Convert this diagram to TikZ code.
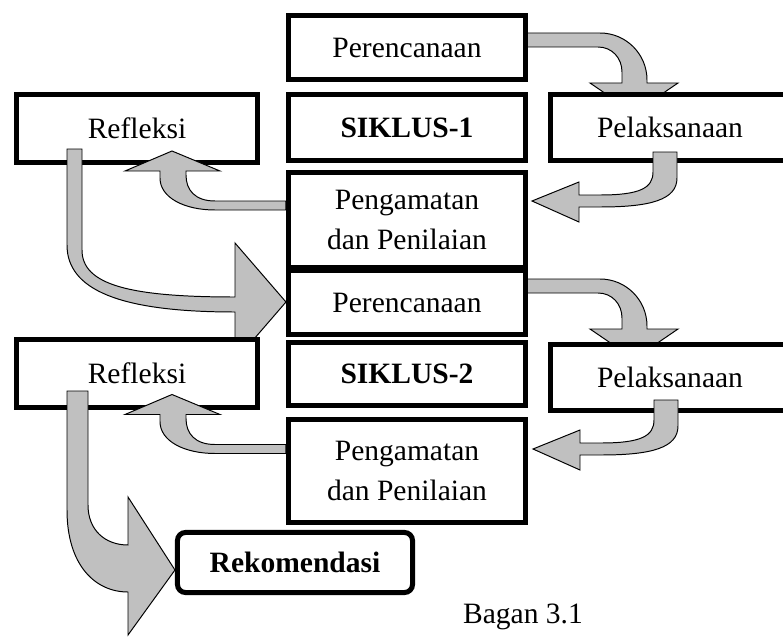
\documentclass[tikz,border=0pt]{standalone}
\usepackage{fontspec}
\setmainfont{Liberation Serif}
\definecolor{arrowgray}{HTML}{C0C0C0}

\begin{document}
\begin{tikzpicture}[x=0.025cm, y=-0.025cm, box node/.style={rectangle,draw,fill=white,line width=0.125cm,minimum width=5.925cm,inner sep=0pt,align=center},block arrow/.style={draw,fill=arrowgray,line width=0.7pt,line join=miter}]
\useasboundingbox (0,0) rectangle (783,637);
\clip (0,0) rectangle (783,637);
% arrows that go under the boxes
\filldraw[block arrow] (515,33) -- (600,33) .. controls (626,33) and (647,54) .. (647,80) -- (647,83) -- (678,83) -- (634,113) -- (590,83) -- (622,83) -- (622,72) .. controls (622,58) and (612,47) .. (598,47) -- (515,47) -- cycle;
\filldraw[block arrow,shift={(0,246)}] (515,33) -- (600,33) .. controls (626,33) and (647,54) .. (647,80) -- (647,83) -- (678,83) -- (634,113) -- (590,83) -- (622,83) -- (622,72) .. controls (622,58) and (612,47) .. (598,47) -- (515,47) -- cycle;
\begin{scope}[every node/.style={font=\fontsize{21}{28.5}\selectfont}]
\node [box node,minimum height=1.6cm](per1) at (407,47.5) {Perencanaan};
\node [box node,minimum height=1.65cm](sik1) at (407,127.5) {\textbf{SIKLUS-1}};
\node [box node,minimum height=2.375cm](pen1) at (407,220) {Pengamatan\\dan Penilaian};
\node [box node,minimum height=1.6cm](per2) at (407,302.5) {Perencanaan};
\node [box node,minimum height=1.575cm](sik2) at (407,374) {\textbf{SIKLUS-2}};
\node [box node,minimum height=2.575cm](pen2) at (407,471) {Pengamatan\\dan Penilaian};
\node [box node,minimum width=5.975cm,minimum height=1.65cm](pel1) at (670,127.5) {Pelaksanaan};
\node [box node,minimum width=5.975cm,minimum height=1.65cm](pel2) at (670,377.5) {Pelaksanaan};
\node [box node,minimum width=6.025cm,minimum height=1.7cm](ref1) at (137,128.5) {Refleksi};
\node [box node,rounded corners=0.2cm,minimum width=5.875cm,minimum height=1.5cm](rek) at (295,562.5) {\textbf{Rekomendasi}};
%ref1 -> per2, its head goes under ref2
\filldraw[block arrow] (67,149) -- (67,245) .. controls (67,290) and (120,312) .. (235,312) -- (235,361) -- (per2.west |- 0,302) -- (235,243) -- (235,297) .. controls (130,297) and (82,285) .. (82,250) -- (82,149) -- cycle;
\node [box node,minimum width=6.025cm,minimum height=1.7cm](ref2) at (137,373.5) {Refleksi};
\node (bagan) at (523,617) {Bagan 3.1};
\end{scope}
% pel -> pen
\filldraw[block arrow] (677,152) -- (677,178) .. controls (677,200) and (650,207) .. (600,207) -- (579,207) -- (579,222) -- (532,201) -- (579,182) -- (579,195) -- (600,195) .. controls (640,195) and (653,188) .. (653,172) -- (653,152) -- cycle;
\filldraw[block arrow,shift={(1,248)}] (677,152) -- (677,178) .. controls (677,200) and (650,207) .. (600,207) -- (579,207) -- (579,222) -- (532,201) -- (579,182) -- (579,195) -- (600,195) .. controls (640,195) and (653,188) .. (653,172) -- (653,152) -- cycle;
% pen -> ref
\filldraw[block arrow] (pen1.west |- 0,201) -- (215,201) .. controls (195,201) and (186,190) .. (186,175) -- (186,171) -- (220,171) -- (172,151) -- (125,171) -- (160,171) -- (160,178) .. controls (160,198) and (185,210) .. (215,210) -- (pen1.west |- 0,210) -- cycle;
\filldraw[block arrow] (pen2.west |- 0,444.5) -- (215,444.5) .. controls (195,444.5) and (186,433.5) .. (186,418.5) -- (186,414.5) -- (220,414.5) -- (172,394.5) -- (125,414.5) -- (160,414.5) -- (160,421.5) .. controls (160,441.5) and (185,453.5) .. (215,453.5) -- (pen2.west |- 0,453.5) -- cycle;
% ref2 -> rek
\filldraw[block arrow] (67,391) -- (67,510) .. controls (67,565) and (95,592) .. (128,592) -- (128,635) -- (rek.west |- 0,570) -- (128,497) -- (128,545) .. controls (105,545) and (88,530) .. (88,505) -- (88,391) -- cycle;
\end{tikzpicture}
\end{document}
